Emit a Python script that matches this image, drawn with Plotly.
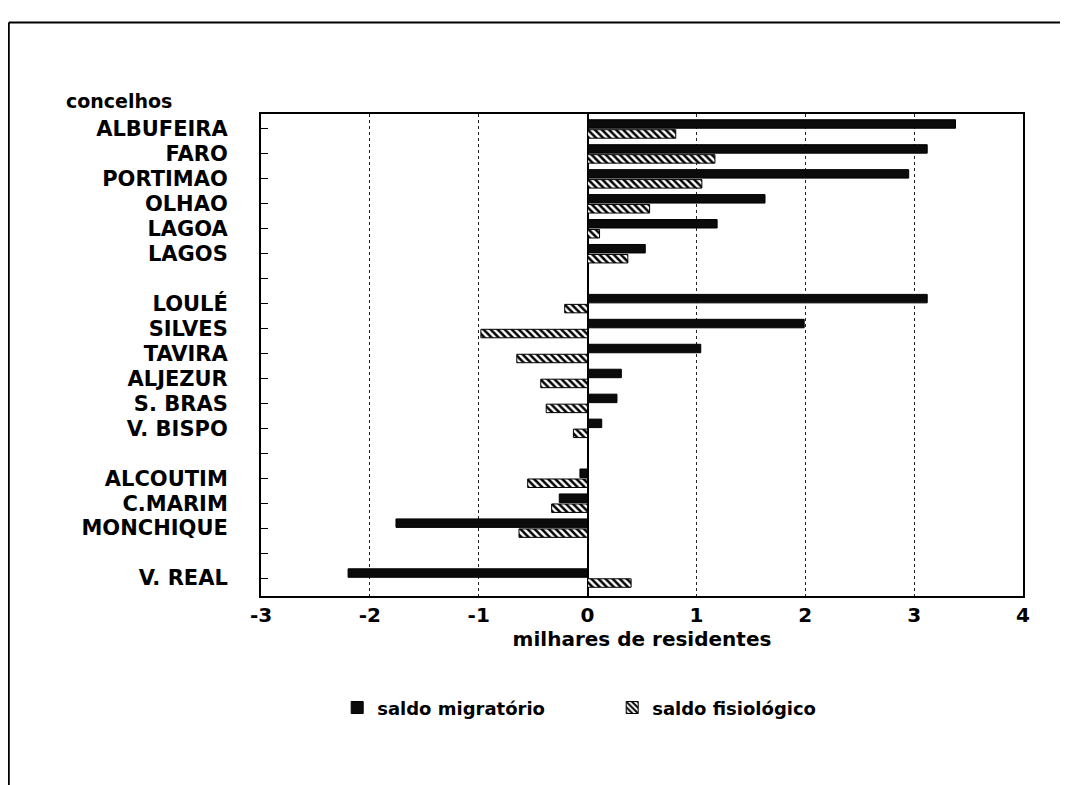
import plotly.graph_objects as go

# concelhos do Algarve (strings vazias = separadores entre grupos)
concelhos = [
    "ALBUFEIRA", "FARO", "PORTIMAO", "OLHAO", "LAGOA", "LAGOS", "",
    "LOULÉ", "SILVES", "TAVIRA", "ALJEZUR", "S. BRAS", "V. BISPO", "",
    "ALCOUTIM", "C.MARIM", "MONCHIQUE", "", "V. REAL",
]
saldo_migratorio = [
    3.38, 3.12, 2.95, 1.63, 1.19, 0.53, None,
    3.12, 1.99, 1.04, 0.31, 0.27, 0.13, None,
    -0.07, -0.26, -1.76, None, -2.20,
]
saldo_fisiologico = [
    0.81, 1.17, 1.05, 0.57, 0.11, 0.37, None,
    -0.21, -0.98, -0.65, -0.43, -0.38, -0.13, None,
    -0.55, -0.33, -0.63, None, 0.40,
]
x_ticks = [-3, -2, -1, 0, 1, 2, 3, 4]
x_labels = ["-3", "-2", "-1", "0", "1", "2", "3", "4"]

pos = list(range(len(concelhos)))
font_family = "DejaVu Sans"
bold = dict(family=font_family, size=20, weight="bold")

fig = go.Figure()
fig.add_trace(
    go.Bar(
        y=pos,
        x=saldo_migratorio,
        orientation="h",
        name="saldo migratório",
        marker=dict(color="#0b0b0b", line=dict(color="black", width=1)),
    )
)
fig.add_trace(
    go.Bar(
        y=pos,
        x=saldo_fisiologico,
        orientation="h",
        name="saldo fisiológico",
        marker=dict(
            color="white",
            line=dict(color="black", width=1),
            pattern=dict(shape="\\", fgcolor="black", bgcolor="white", size=5, solidity=0.5),
        ),
    )
)

fig.update_layout(
    width=1068,
    height=785,
    template="none",
    paper_bgcolor="white",
    plot_bgcolor="white",
    font=dict(family=font_family, size=20, color="black"),
    margin={"l": 253, "r": 53, "t": 106, "b": 197},
    barmode="group",
    bargap=0.2,
    bargroupgap=0.15,
    showlegend=True,
    legend=dict(
        orientation="h",
        x=0.1,
        xanchor="left",
        y=-0.232,
        yanchor="middle",
        font=dict(family=font_family, size=18, weight="bold"),
        entrywidth=230,
        traceorder="normal",
    ),
    xaxis=dict(
        range=[-3, 4],
        tickvals=x_ticks,
        ticktext=x_labels,
        ticks="",
        showgrid=True,
        gridcolor="#222",
        griddash="dot",
        gridwidth=1,
        zeroline=True,
        zerolinecolor="black",
        zerolinewidth=2,
        showline=True,
        mirror=True,
        linecolor="black",
        linewidth=1.5,
        tickfont=bold,
        title=dict(text="milhares de residentes", font=bold, standoff=3),
    ),
    yaxis=dict(
        tickvals=pos,
        ticktext=concelhos,
        range=[len(concelhos) - 0.28, -0.6],
        ticks="inside",
        ticklen=7,
        tickcolor="black",
        tickwidth=1,
        showgrid=False,
        zeroline=False,
        showline=True,
        mirror=True,
        linecolor="black",
        linewidth=2,
        tickfont=dict(family=font_family, size=21, weight="bold"),
        ticklabelstandoff=27,
    ),
)

fig.add_annotation(
    text="concelhos",
    xref="paper", yref="paper",
    x=-0.258, y=1.0,
    xanchor="left", yanchor="bottom",
    showarrow=False,
    font=dict(family=font_family, size=19, weight="bold"),
)

# moldura da página digitalizada
line = dict(color="black", width=2)
fig.add_shape(type="line", xref="paper", yref="paper", x0=-0.331, x1=1.07, y0=1.19, y1=1.19, line=line)
fig.add_shape(type="line", xref="paper", yref="paper", x0=-0.331, x1=-0.331, y0=1.19, y1=-0.41, line=line)
fig.add_shape(type="line", xref="paper", yref="paper", x0=0.89, x1=1.07, y0=-0.405, y1=-0.405,
              line=dict(color="black", width=1))

fig.write_html("out.html")
